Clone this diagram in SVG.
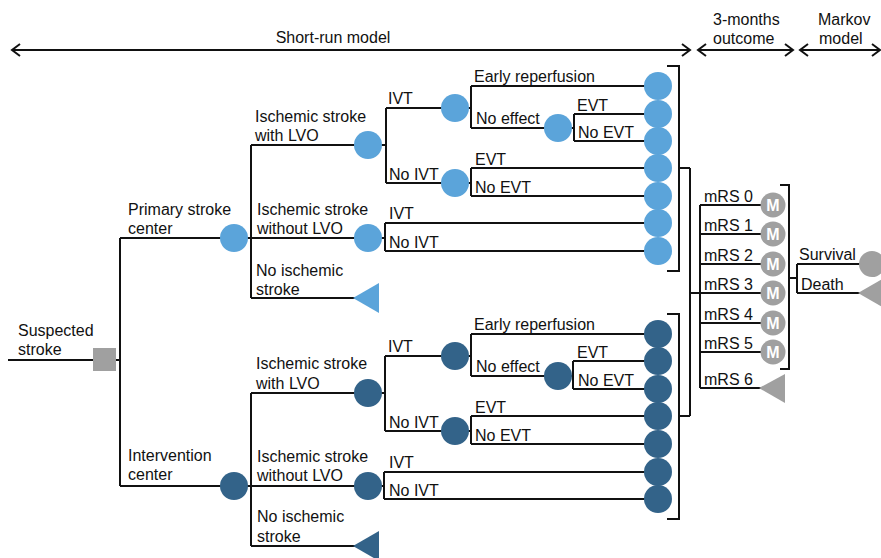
<svg xmlns="http://www.w3.org/2000/svg" width="881" height="558" viewBox="0 0 881 558">
<defs>
<marker id="chev" markerUnits="userSpaceOnUse" markerWidth="12" markerHeight="16" refX="9" refY="7" orient="auto-start-reverse" overflow="visible">
<path d="M1,1 L9,7 L1,13" fill="none" stroke="#111" stroke-width="2"/>
</marker>
</defs>
<style>
text{font-family:"Liberation Sans",Arial,sans-serif;font-size:16px;fill:#111}
.c{fill:none;stroke:#111;stroke-width:2}
.lb{fill:#5ba4da}
.db{fill:#336389}
.g{fill:#a0a0a0}
.m{fill:#fff;font-weight:bold;font-size:16px;text-anchor:middle}
</style>
<rect width="881" height="558" fill="#fff"/>
<g id="connectors" class="c">
<path d="M12,50 H690" marker-start="url(#chev)" marker-end="url(#chev)"/>
<path d="M698,50 H793" marker-start="url(#chev)" marker-end="url(#chev)"/>
<path d="M800,50 H880" marker-start="url(#chev)" marker-end="url(#chev)"/>
<path d="M8,360 H120 M120,238 V486 M120,238 H234 M120,486 H234"/>
<!-- top -->
<path d="M234,238 H251 M251,145 V298 M251,145 H368 M251,238 H368 M251,298 H360"/>
<path d="M368,145 H386 M386,108 V183 M386,108 H455 M386,183 H455"/>
<path d="M455,108 H471 M471,86 V128 M471,86 H658 M471,128 H558"/>
<path d="M558,128 H574 M574,114 V141 M574,114 H658 M574,141 H658"/>
<path d="M455,183 H471 M471,168 V196 M471,168 H658 M471,196 H658"/>
<path d="M368,238 H385 M385,223 V251 M385,223 H658 M385,251 H658"/>
<!-- bottom -->
<path d="M234,486 H251 M251,393 V546 M251,393 H368 M251,486 H368 M251,546 H360"/>
<path d="M368,393 H385 M385,356 V431 M385,356 H455 M385,431 H455"/>
<path d="M455,356 H471 M471,334 V376 M471,334 H658 M471,376 H558"/>
<path d="M558,376 H573 M573,361 V389 M573,361 H658 M573,389 H658"/>
<path d="M455,431 H471 M471,416 V444 M471,416 H658 M471,444 H658"/>
<path d="M368,486 H384 M384,472 V499 M384,472 H658 M384,499 H658"/>
<!-- brackets -->
<path d="M667,66 H679 V271 H667 M679,168 H690"/>
<path d="M667,314 H679 V519 H667 M679,416 H690"/>
<path d="M690,168 V416 M690,293 H700 M700,205 V388"/>
<path d="M700,205 H772 M700,234 H772 M700,264 H772 M700,293 H772 M700,323 H772 M700,352 H772 M700,388 H765"/>
<path d="M780,185 H789 V369 H780 M789,278 H797 M797,264 V293 M797,264 H872 M797,293 H862"/>
</g>
<g id="labels">
<text x="333" y="43" text-anchor="middle">Short-run model</text>
<text x="713" y="25">3-months</text>
<text x="713" y="44">outcome</text>
<text x="818" y="25">Markov</text>
<text x="819" y="44">model</text>
</g>
<g id="root">
<rect x="93" y="348" width="23" height="23" class="g"/>
<text x="18" y="336">Suspected</text>
<text x="18" y="355">stroke</text>
</g>
<g id="primary">
<circle cx="234" cy="238" r="14" class="lb"/>
<text x="128" y="215">Primary stroke</text>
<text x="128" y="234">center</text>
</g>
<g id="intervention">
<circle cx="234" cy="486" r="14" class="db"/>
<text x="128" y="461">Intervention</text>
<text x="128" y="480">center</text>
</g>
<g id="p-lvo">
<circle cx="368" cy="145" r="14" class="lb"/>
<text x="255" y="122">Ischemic stroke</text>
<text x="255" y="141">with LVO</text>
</g>
<g id="p-nolvo">
<circle cx="368" cy="238" r="14" class="lb"/>
<text x="257" y="215">Ischemic stroke</text>
<text x="257" y="234">without LVO</text>
</g>
<g id="p-noisch">
<path d="M353,298 L379,283 L379,313 Z" class="lb"/>
<text x="256" y="276">No ischemic</text>
<text x="256" y="295">stroke</text>
</g>
<g id="p-ivt">
<circle cx="455" cy="108" r="14" class="lb"/>
<text x="388" y="104">IVT</text>
</g>
<g id="p-noivt">
<circle cx="455" cy="183" r="14" class="lb"/>
<text x="389" y="180">No IVT</text>
</g>
<g id="p-noeffect">
<circle cx="558" cy="128" r="14" class="lb"/>
<text x="476" y="124">No effect</text>
</g>
<g id="p-outcomes" class="lb">
<circle cx="658" cy="86" r="14"/>
<circle cx="658" cy="114" r="14"/>
<circle cx="658" cy="141" r="14"/>
<circle cx="658" cy="168" r="14"/>
<circle cx="658" cy="196" r="14"/>
<circle cx="658" cy="223" r="14"/>
<circle cx="658" cy="251" r="14"/>
</g>
<g id="p-outcome-labels">
<text x="474" y="82">Early reperfusion</text>
<text x="577" y="111">EVT</text>
<text x="578" y="138">No EVT</text>
<text x="475" y="165">EVT</text>
<text x="475" y="193">No EVT</text>
<text x="389" y="219">IVT</text>
<text x="389" y="248">No IVT</text>
</g>
<g id="i-lvo">
<circle cx="368" cy="393" r="14" class="db"/>
<text x="256" y="369">Ischemic stroke</text>
<text x="256" y="389">with LVO</text>
</g>
<g id="i-nolvo">
<circle cx="368" cy="486" r="14" class="db"/>
<text x="257" y="462">Ischemic stroke</text>
<text x="257" y="481">without LVO</text>
</g>
<g id="i-noisch">
<path d="M353,546 L379,531 L379,561 Z" class="db"/>
<text x="257" y="522">No ischemic</text>
<text x="257" y="542">stroke</text>
</g>
<g id="i-ivt">
<circle cx="455" cy="356" r="14" class="db"/>
<text x="388" y="352">IVT</text>
</g>
<g id="i-noivt">
<circle cx="455" cy="431" r="14" class="db"/>
<text x="389" y="428">No IVT</text>
</g>
<g id="i-noeffect">
<circle cx="558" cy="376" r="14" class="db"/>
<text x="476" y="372">No effect</text>
</g>
<g id="i-outcomes" class="db">
<circle cx="658" cy="334" r="14"/>
<circle cx="658" cy="361" r="14"/>
<circle cx="658" cy="389" r="14"/>
<circle cx="658" cy="416" r="14"/>
<circle cx="658" cy="444" r="14"/>
<circle cx="658" cy="472" r="14"/>
<circle cx="658" cy="499" r="14"/>
</g>
<g id="i-outcome-labels">
<text x="474" y="330">Early reperfusion</text>
<text x="577" y="358">EVT</text>
<text x="578" y="386">No EVT</text>
<text x="475" y="413">EVT</text>
<text x="475" y="441">No EVT</text>
<text x="389" y="468">IVT</text>
<text x="389" y="496">No IVT</text>
</g>
<g id="mrs">
<circle cx="773" cy="205" r="12.5" class="g"/><text class="m" x="773" y="211">M</text>
<circle cx="773" cy="234" r="12.5" class="g"/><text class="m" x="773" y="240">M</text>
<circle cx="773" cy="264" r="12.5" class="g"/><text class="m" x="773" y="270">M</text>
<circle cx="773" cy="293" r="12.5" class="g"/><text class="m" x="773" y="299">M</text>
<circle cx="773" cy="323" r="12.5" class="g"/><text class="m" x="773" y="329">M</text>
<circle cx="773" cy="352" r="12.5" class="g"/><text class="m" x="773" y="358">M</text>
<path d="M759,388 L785,374 L785,403 Z" class="g"/>
<text x="704" y="202">mRS 0</text>
<text x="704" y="231">mRS 1</text>
<text x="704" y="261">mRS 2</text>
<text x="704" y="290">mRS 3</text>
<text x="704" y="320">mRS 4</text>
<text x="704" y="349">mRS 5</text>
<text x="704" y="385">mRS 6</text>
</g>
<g id="markov">
<circle cx="872" cy="264" r="13" class="g"/>
<path d="M858,293 L884,278 L884,308 Z" class="g"/>
<text x="799" y="260">Survival</text>
<text x="801" y="290">Death</text>
</g>
</svg>
